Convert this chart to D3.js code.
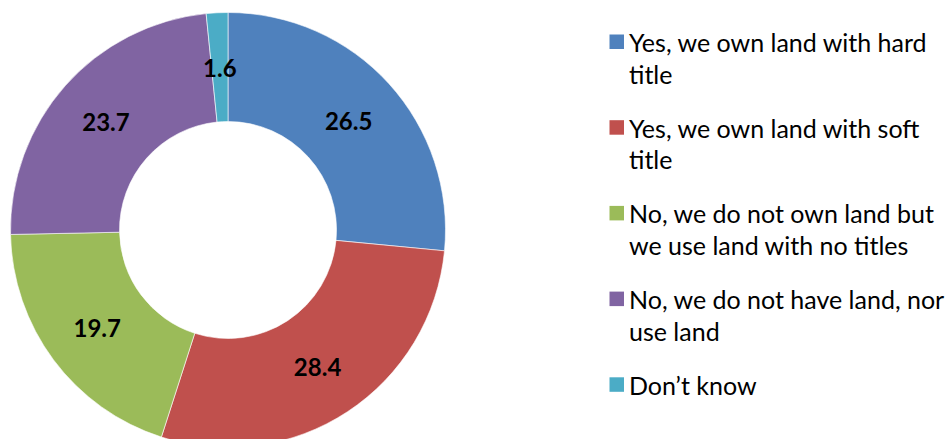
<!DOCTYPE html>
<html>
<head>
<meta charset="utf-8">
<script src="https://cdn.jsdelivr.net/npm/d3@7"></script>
<style>
  html, body { margin: 0; padding: 0; background: #fff; overflow: hidden; }
  svg { display: block; }
</style>
</head>
<body>
<svg id="chart" width="948" height="439"></svg>
<script>
// Land ownership responses (percent)
const categories = [
  "Yes, we own land with hard title",
  "Yes, we own land with soft title",
  "No, we do not own land but we use land with no titles",
  "No, we do not have land, nor use land",
  "Don\u2019t know"
];
const values = [26.5, 28.4, 19.7, 23.7, 1.6];
const legendLines = [
  ["Yes, we own land with hard", "title"],
  ["Yes, we own land with soft", "title"],
  ["No, we do not own land but", "we use land with no titles"],
  ["No, we do not have land, nor", "use land"],
  ["Don\u2019t know"]
];
const colors = ["#4F81BD", "#C0504D", "#9BBB59", "#8064A2", "#4BACC6"];

const svg = d3.select("#chart");
const cx = 228, cy = 230;
const outerR = 217.5, innerR = 108.5;

const color = d3.scaleOrdinal().domain(categories).range(colors);

const data = categories.map((c, i) => ({ category: c, value: values[i] }));

const pie = d3.pie().value(d => d.value).sort(null);
const arc = d3.arc().innerRadius(innerR).outerRadius(outerR);

const g = svg.append("g").attr("transform", `translate(${cx},${cy})`);
const arcs = pie(data);

g.selectAll("path.slice")
  .data(arcs)
  .join("path")
  .attr("class", "slice")
  .attr("d", arc)
  .attr("fill", d => color(d.data.category))
  .attr("stroke", "#ffffff")
  .attr("stroke-width", 0.6);

g.selectAll("text.value")
  .data(arcs)
  .join("text")
  .attr("class", "value")
  .attr("transform", d => `translate(${arc.centroid(d)})`)
  .attr("text-anchor", "middle")
  .attr("dominant-baseline", "central")
  .style("font-family", "Lato, 'Open Sans', sans-serif")
  .style("font-weight", "bold")
  .style("font-size", "24px")
  .attr("fill", "#000")
  .text(d => d3.format(".1f")(d.data.value));

// Legend
const legendX = 609.5, legendY0 = 34.5, legendStep = 85.7, sw = 14.5, lineH = 31.5;
const legend = svg.append("g");
const items = legend.selectAll("g.item")
  .data(categories)
  .join("g")
  .attr("class", "item")
  .attr("transform", (d, i) => `translate(${legendX},${legendY0 + i * legendStep})`);

items.append("rect")
  .attr("width", sw)
  .attr("height", sw)
  .attr("fill", d => color(d));

items.append("text")
  .attr("x", 19.5)
  .attr("y", 17.5)
  .style("font-family", "Lato, 'Open Sans', sans-serif")
  .style("font-size", "25px")
  .attr("fill", "#000")
  .selectAll("tspan")
  .data((d, i) => legendLines[i])
  .join("tspan")
  .attr("x", 19.5)
  .attr("dy", (t, j) => j === 0 ? 0 : lineH)
  .text(t => t);
</script>
</body>
</html>
